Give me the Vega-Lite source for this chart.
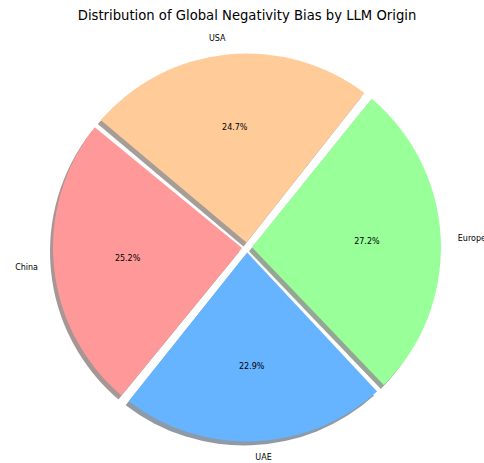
{
  "$schema": "https://vega.github.io/schema/vega-lite/v6.json",
  "width": 474,
  "height": 431,
  "autosize": {"type": "none"},
  "padding": {"left": 10, "top": 32, "right": 0, "bottom": 0},
  "background": "white",
  "title": {
    "text": "Distribution of Global Negativity Bias by LLM Origin",
    "font": "DejaVu Sans",
    "fontSize": 13.2,
    "fontWeight": "normal",
    "color": "#000000",
    "offset": 9
  },
  "view": {"stroke": null},
  "data": {
    "values": [
      {"origin": "Europe", "share": 0.272, "rank": 1},
      {"origin": "UAE", "share": 0.229, "rank": 2},
      {"origin": "China", "share": 0.252, "rank": 3},
      {"origin": "USA", "share": 0.247, "rank": 4}
    ]
  },
  "encoding": {
    "theta": {"field": "share", "type": "quantitative", "stack": true, "scale": {"range": [0.6737, 6.9569]}},
    "order": {"field": "rank", "type": "quantitative"}
  },
  "layer": [
    {
      "mark": {"type": "arc", "outerRadius": 194, "innerRadius": 5, "padAngle": 0.048, "xOffset": -3, "yOffset": 4},
      "encoding": {
        "color": {
          "field": "origin", "type": "nominal", "legend": null,
          "scale": {"domain": ["Europe", "UAE", "China", "USA"], "range": ["#96a696", "#8f9aa6", "#a69696", "#a69e96"]}
        }
      }
    },
    {
      "mark": {"type": "arc", "outerRadius": 194, "innerRadius": 5, "padAngle": 0.048},
      "encoding": {
        "color": {
          "field": "origin", "type": "nominal", "legend": null,
          "scale": {"domain": ["Europe", "UAE", "China", "USA"], "range": ["#99ff99", "#66b3ff", "#ff9999", "#ffcc99"]}
        }
      }
    },
    {
      "mark": {"type": "text", "radius": 120, "font": "DejaVu Sans", "fontSize": 8, "color": "#000000"},
      "encoding": {"text": {"field": "share", "type": "quantitative", "format": ".1%"}}
    },
    {
      "mark": {"type": "text", "radius": 210, "align": "right", "font": "DejaVu Sans", "fontSize": 8, "color": "#000000"},
      "encoding": {
        "text": {
          "condition": {"test": "datum.origin === 'USA' || datum.origin === 'China'", "field": "origin", "type": "nominal"},
          "value": ""
        }
      }
    },
    {
      "mark": {"type": "text", "radius": 211, "align": "left", "font": "DejaVu Sans", "fontSize": 8, "color": "#000000"},
      "encoding": {
        "text": {
          "condition": {"test": "datum.origin === 'UAE' || datum.origin === 'Europe'", "field": "origin", "type": "nominal"},
          "value": ""
        }
      }
    }
  ],
  "resolve": {"scale": {"color": "independent"}}
}
